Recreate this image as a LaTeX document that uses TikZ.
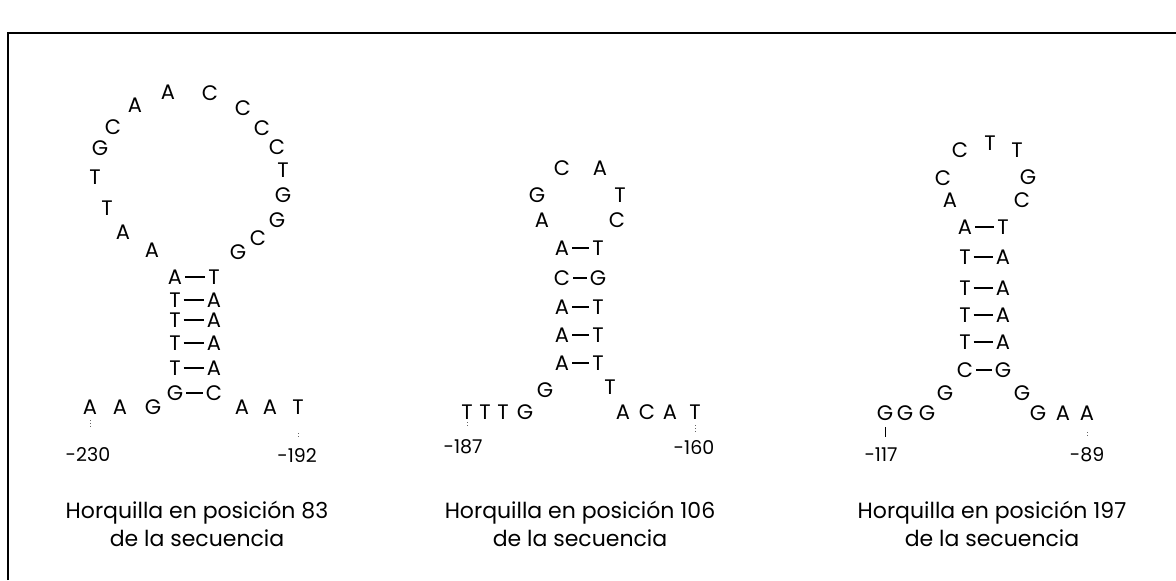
\documentclass[tikz,border=0pt]{standalone}
\usepackage{fontspec}
\setmainfont{Poppins}

\tikzset{
  nt/.style={inner sep=1pt, font=\fontsize{10.5}{11}\selectfont},
  posnum/.style={inner sep=1pt, font=\fontsize{9.5}{10}\selectfont},
  pair/.style={line width=0.9pt, shorten <=0.3pt, shorten >=0.3pt},
  tick/.style={densely dotted, black!60, line width=0.4pt},
  caption/.style={align=center, font=\fontsize{11}{14}\selectfont},
  frame/.style={line width=1pt}
}

\begin{document}
\begin{tikzpicture}[x=0.5pt,y=-0.5pt]
\useasboundingbox (0,0) rectangle (1176,580);
\draw[frame] (8,580) -- (8,33) -- (1176,33);

% horquilla 83
\foreach \x/\y/\b [count=\i] in {152/250/A,123/232/A,107/208/T,95/177/T,100/148/G,
    113/127/C,135/105/A,168/92/A,210/93/C,243/108/C,262/128/C,277/147/C,
    283/170/T,283/195/G,277/220/G,258/238/C,238/252/G}
  \node[nt] (al\i) at (\x,\y) {\b};
\foreach \y/\l/\r [count=\i] in {277/A/T,300/T/A,320/T/A,343/T/A,368/T/A,393/G/C} {
  \node[nt] (as\i) at (175,\y) {\l};
  \node[nt] (at\i) at (214,\y) {\r};
  \draw[pair] (as\i) -- (at\i);
}
\foreach \x/\b [count=\i] in {90/A,120/A,153/G}
  \node[nt] (af\i) at (\x,407) {\b};
\foreach \x/\b [count=\i] in {242/A,270/A,298/T}
  \node[nt] (ag\i) at (\x,407) {\b};
\node[posnum] (n230) at (88,455) {-230};
\node[posnum] (n192) at (297,455) {-192};
\draw[tick, shorten <=1.75pt, shorten >=9pt] (af1) -- (af1 |- n230.north);
\draw[tick, shorten <=8.25pt, shorten >=4.5pt] (ag3) -- (ag3 |- n192.north);
\node[caption] (capA) at (197,524) {Horquilla en posición 83\\de la secuencia};

% horquilla 106
\foreach \x/\y/\b [count=\i] in {542/220/A,537/195/G,562/168/C,600/168/A,620/195/T,617/220/C}
  \node[nt] (bl\i) at (\x,\y) {\b};
\foreach \y/\l/\r [count=\i] in {248/A/T,278/C/G,307/A/T,335/A/T,363/A/T} {
  \node[nt] (bs\i) at (562,\y) {\l};
  \node[nt] (bt\i) at (598,\y) {\r};
  \draw[pair] (bs\i) -- (bt\i);
}
\node[nt] (bg1) at (545,390) {G};
\node[nt] (bg2) at (610,387) {T};
\foreach \x/\b [count=\i] in {467/T,485/T,503/T,525/G}
  \node[nt] (bf\i) at (\x,412) {\b};
\foreach \x/\b [count=\i] in {623/A,647/C,670/A,695/T}
  \node[nt] (bh\i) at (\x,412) {\b};
\node[posnum] (n187) at (463,447) {-187};
\node[posnum] (n160) at (694,447) {-160};
\draw[tick, shorten <=0.3pt, shorten >=6pt] (bf1) -- (bf1 |- n187.north);
\draw[tick, shorten <=1.75pt, shorten >=2.5pt] (bh4) -- (bh4 |- n160.north);
\node[caption] (capB) at (580,524) {Horquilla en posición 106\\de la secuencia};

% horquilla 197
\foreach \x/\y/\b [count=\i] in {950/200/A,943/178/C,960/150/C,990/143/T,1017/150/T,1028/177/G,1022/200/C}
  \node[nt] (cl\i) at (\x,\y) {\b};
\foreach \y/\l/\r [count=\i] in {227/A/T,257/T/A,288/T/A,315/T/A,342/T/A,370/C/G} {
  \node[nt] (cs\i) at (965,\y) {\l};
  \node[nt] (ct\i) at (1003,\y) {\r};
  \draw[pair] (cs\i) -- (ct\i);
}
\node[nt] (cg1) at (945,393) {G};
\node[nt] (cg2) at (1022,393) {G};
\foreach \x/\b [count=\i] in {885/G,905/G,927/G}
  \node[nt] (cf\i) at (\x,413) {\b};
\foreach \x/\b [count=\i] in {1038/G,1063/A,1087/A}
  \node[nt] (ch\i) at (\x,413) {\b};
\node[posnum] (n117) at (881,455) {-117};
\node[posnum] (n89) at (1087,455) {-89};
\draw[tick, solid, black, line width=0.5pt, shorten <=2.25pt, shorten >=4.5pt] (cf1) -- (cf1 |- n117.north);
\draw[tick, shorten <=4.75pt, shorten >=4pt] (ch3) -- (ch3 |- n89.north);
\node[caption] (capC) at (992,524) {Horquilla en posición 197\\de la secuencia};
\end{tikzpicture}
\end{document}
